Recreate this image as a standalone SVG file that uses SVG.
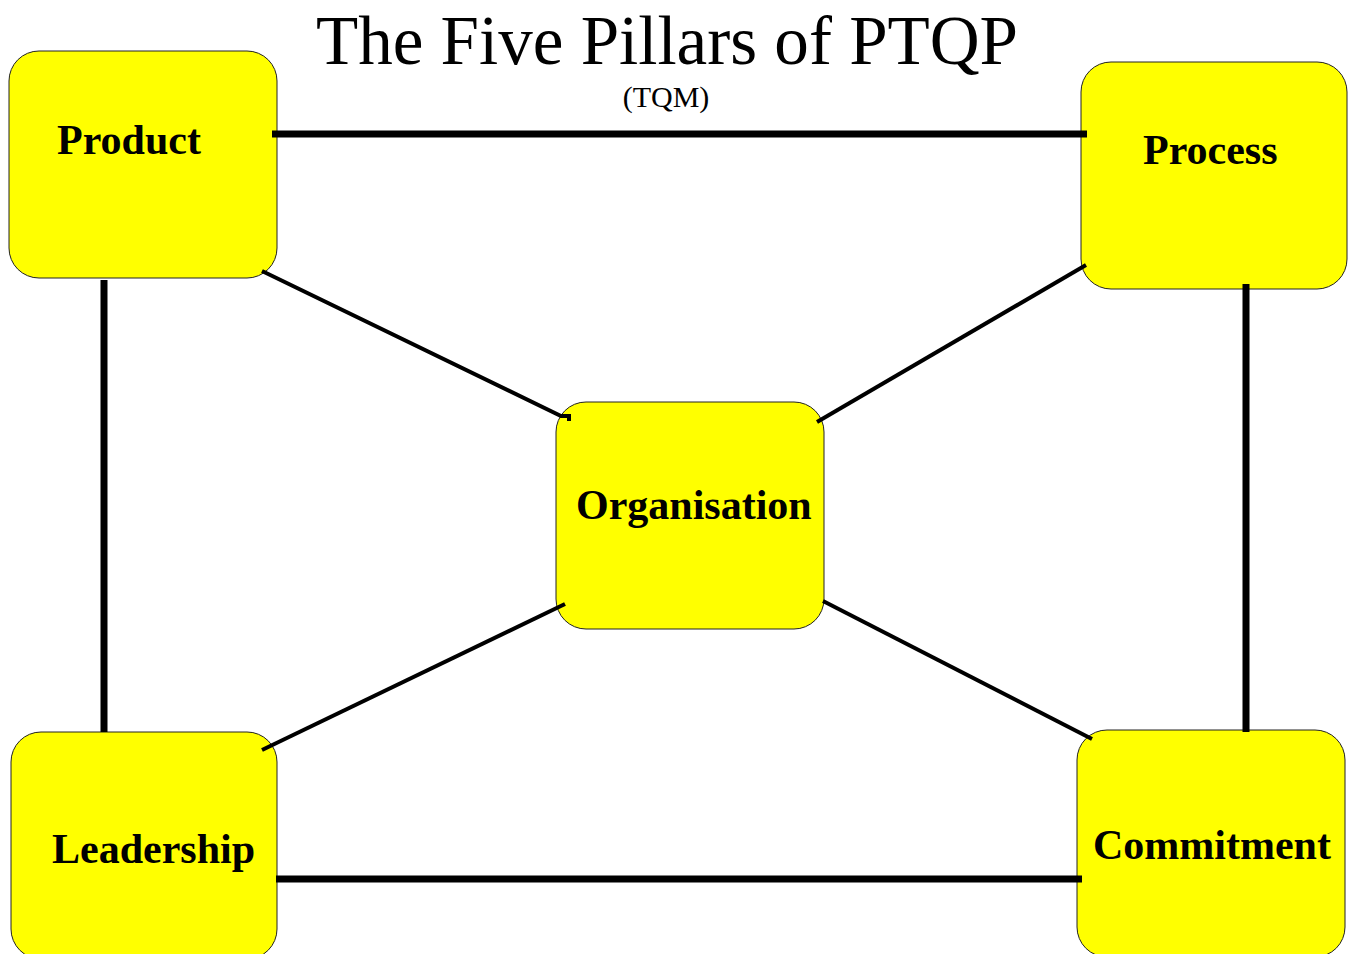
<svg xmlns="http://www.w3.org/2000/svg" width="1348" height="954" viewBox="0 0 1348 954">
<style>
.box{fill:#ffff00;stroke:#222;stroke-width:1}
.lbl{font-family:"Liberation Serif","Times New Roman",serif;font-weight:bold;font-size:42px;fill:#000}
.thick{stroke:#000;stroke-width:7;fill:none}
.thin{stroke:#000;stroke-width:4;fill:none}
.title{font-family:"Liberation Serif","Times New Roman",serif;fill:#000;text-anchor:middle}
</style>
<rect width="1348" height="954" fill="#fff"/>
<text class="title" x="667" y="64" font-size="69" textLength="702" lengthAdjust="spacingAndGlyphs">The Five Pillars of PTQP</text>
<text class="title" x="666" y="107" font-size="30">(TQM)</text>
<g id="product">
<rect class="box" x="9" y="51" width="268" height="227" rx="30"/>
<text class="lbl" x="57" y="154">Product</text>
</g>
<g id="process">
<rect class="box" x="1081" y="62" width="266" height="227" rx="30"/>
<text class="lbl" x="1143" y="164">Process</text>
</g>
<g id="organisation">
<rect class="box" x="556" y="402" width="268" height="227" rx="30"/>
<text class="lbl" x="576" y="519">Organisation</text>
</g>
<g id="leadership">
<rect class="box" x="11" y="732" width="266" height="227" rx="30"/>
<text class="lbl" x="52" y="863">Leadership</text>
</g>
<g id="commitment">
<rect class="box" x="1077" y="730" width="268" height="227" rx="30"/>
<text class="lbl" x="1093" y="859">Commitment</text>
</g>
<g id="connectors">
<line class="thick" x1="272" y1="134" x2="1087" y2="134"/>
<line class="thick" x1="104" y1="280" x2="104" y2="732"/>
<line class="thick" x1="1246" y1="284" x2="1246" y2="732"/>
<line class="thick" x1="276" y1="879" x2="1082" y2="879"/>
<polyline class="thin" points="262,271 561,416 569,416 569,421"/>
<line class="thin" x1="1086" y1="265" x2="817" y2="422"/>
<line class="thin" x1="262" y1="750" x2="565" y2="604"/>
<line class="thin" x1="823" y1="601" x2="1092" y2="739"/>
</g>
</svg>
